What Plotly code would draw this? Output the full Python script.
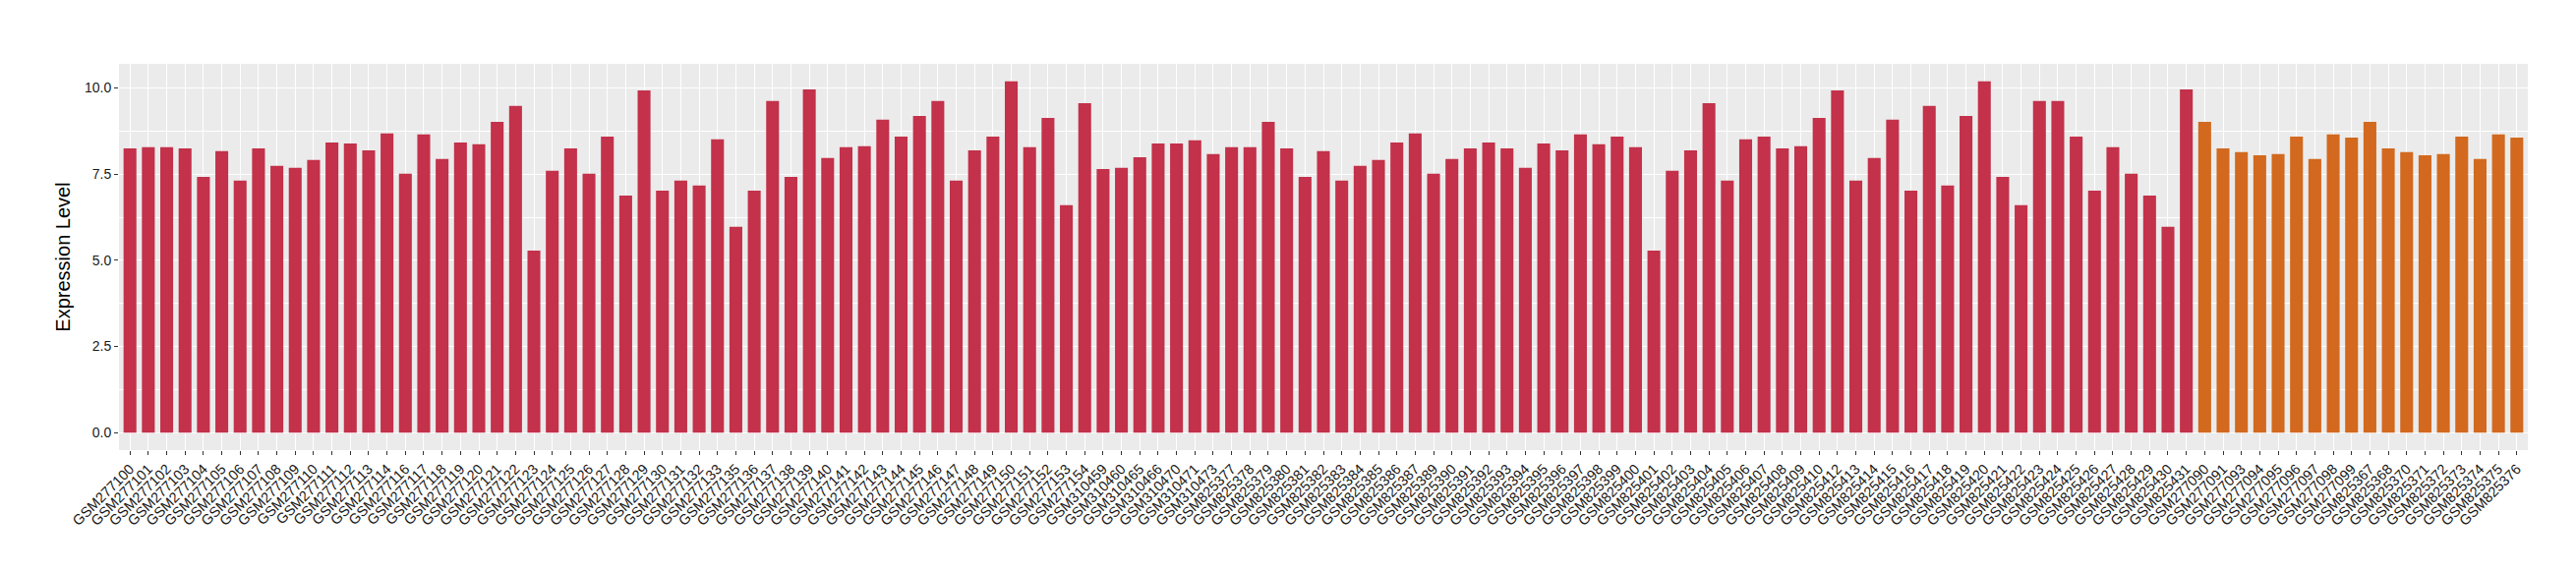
import plotly.graph_objects as go

# ---- data ----
red_samples = [
    "GSM277100", "GSM277101", "GSM277102", "GSM277103", "GSM277104", "GSM277105", "GSM277106",
    "GSM277107", "GSM277108", "GSM277109", "GSM277110", "GSM277111", "GSM277112", "GSM277113",
    "GSM277114", "GSM277116", "GSM277117", "GSM277118", "GSM277119", "GSM277120", "GSM277121",
    "GSM277122", "GSM277123", "GSM277124", "GSM277125", "GSM277126", "GSM277127", "GSM277128",
    "GSM277129", "GSM277130", "GSM277131", "GSM277132", "GSM277133", "GSM277135", "GSM277136",
    "GSM277137", "GSM277138", "GSM277139", "GSM277140", "GSM277141", "GSM277142", "GSM277143",
    "GSM277144", "GSM277145", "GSM277146", "GSM277147", "GSM277148", "GSM277149", "GSM277150",
    "GSM277151", "GSM277152", "GSM277153", "GSM277154",
    "GSM310459", "GSM310460", "GSM310465", "GSM310466", "GSM310470", "GSM310471", "GSM310473",
    "GSM825377", "GSM825378", "GSM825379", "GSM825380", "GSM825381", "GSM825382", "GSM825383",
    "GSM825384", "GSM825385", "GSM825386", "GSM825387", "GSM825389", "GSM825390", "GSM825391",
    "GSM825392", "GSM825393", "GSM825394", "GSM825395", "GSM825396", "GSM825397", "GSM825398",
    "GSM825399", "GSM825400", "GSM825401", "GSM825402", "GSM825403", "GSM825404", "GSM825405",
    "GSM825406", "GSM825407", "GSM825408", "GSM825409", "GSM825410", "GSM825412", "GSM825413",
    "GSM825414", "GSM825415", "GSM825416", "GSM825417", "GSM825418", "GSM825419", "GSM825420",
    "GSM825421", "GSM825422", "GSM825423", "GSM825424", "GSM825425", "GSM825426", "GSM825427",
    "GSM825428", "GSM825429", "GSM825430", "GSM825431",
]
red_values = [
    8.25, 8.28, 8.28, 8.25, 7.42, 8.17, 7.31, 8.25, 7.74, 7.68, 7.91, 8.42, 8.39, 8.19,
    8.68, 7.51, 8.65, 7.94, 8.42, 8.37, 9.02, 9.48, 5.28, 7.60, 8.25, 7.51, 8.59,
    6.88, 9.93, 7.02, 7.31, 7.17, 8.51, 5.97, 7.02, 9.62, 7.42, 9.96, 7.97, 8.28, 8.31,
    9.08, 8.59, 9.19, 9.62, 7.31, 8.19, 8.59, 10.19, 8.28, 9.13, 6.60, 9.56,
    7.65, 7.68, 7.99, 8.39, 8.39, 8.48, 8.08, 8.28, 8.28, 9.02, 8.25, 7.42, 8.17, 7.31,
    7.74, 7.91, 8.42, 8.68, 7.51, 7.94, 8.25, 8.42, 8.25, 7.68, 8.39, 8.19,
    8.65, 8.37, 8.59, 8.28, 5.28, 7.60, 8.19, 9.56, 7.31, 8.51, 8.59, 8.25, 8.31, 9.13,
    9.93, 7.31, 7.97, 9.08, 7.02, 9.48, 7.17, 9.19, 10.19, 7.42, 6.60,
    9.62, 9.62, 8.59, 7.02, 8.28, 7.51, 6.88, 5.97, 9.96,
]
orange_samples = [
    "GSM277090", "GSM277091", "GSM277093", "GSM277094", "GSM277095", "GSM277096",
    "GSM277097", "GSM277098", "GSM277099",
    "GSM825367", "GSM825368", "GSM825370", "GSM825371", "GSM825372", "GSM825373",
    "GSM825374", "GSM825375", "GSM825376",
]
orange_values = [
    9.02, 8.25, 8.14, 8.05, 8.08, 8.59, 7.94, 8.65, 8.56,
    9.02, 8.25, 8.14, 8.05, 8.08, 8.59, 7.94, 8.65, 8.56,
]
y_ticks = [0.0, 2.5, 5.0, 7.5, 10.0]
y_tick_labels = ["0.0", "2.5", "5.0", "7.5", "10.0"]

RED = "#C3314A"
ORANGE = "#D2691E"
FONT = "Liberation Sans, Arial, Helvetica, sans-serif"

all_samples = red_samples + orange_samples
ymax = max(red_values + orange_values)
pad = ymax * 0.05

fig = go.Figure()
fig.add_trace(go.Bar(x=red_samples, y=red_values, marker=dict(color=RED, line=dict(width=0)),
                     width=0.7, showlegend=False))
fig.add_trace(go.Bar(x=orange_samples, y=orange_values, marker=dict(color=ORANGE, line=dict(width=0)),
                     width=0.7, showlegend=False))

fig.update_layout(
    width=2620, height=580,
    barmode="overlay",
    paper_bgcolor="white",
    plot_bgcolor="#EBEBEB",
    margin=dict(l=113, r=57, t=57, b=130),
    font=dict(family=FONT, color="#4D4D4D"),
    xaxis=dict(
        type="category",
        categoryorder="array",
        categoryarray=all_samples,
        range=[-0.6, len(all_samples) - 0.4],
        showgrid=True, gridcolor="white", gridwidth=1.4,
        ticks="outside", ticklen=4, tickcolor="#333333", tickwidth=1,
        tickangle=-45,
        tickfont=dict(size=14.5, color="#1a1a1a", family=FONT),
        showline=False, zeroline=False,
    ),
    yaxis=dict(
        range=[-pad, ymax + pad],
        tickvals=y_ticks, ticktext=y_tick_labels,
        showgrid=True, gridcolor="white", gridwidth=1.4,
        minor=dict(dtick=1.25, tick0=0, showgrid=True, gridcolor="white", gridwidth=0.7, ticks=""),
        ticks="outside", ticklen=4, tickcolor="#333333", tickwidth=1,
        tickfont=dict(size=14, color="#1a1a1a", family=FONT),
        zeroline=False, showline=False,
        title=dict(text="Expression Level", font=dict(size=20, color="black", family=FONT), standoff=8),
    ),
)

fig.write_html("out.html")
